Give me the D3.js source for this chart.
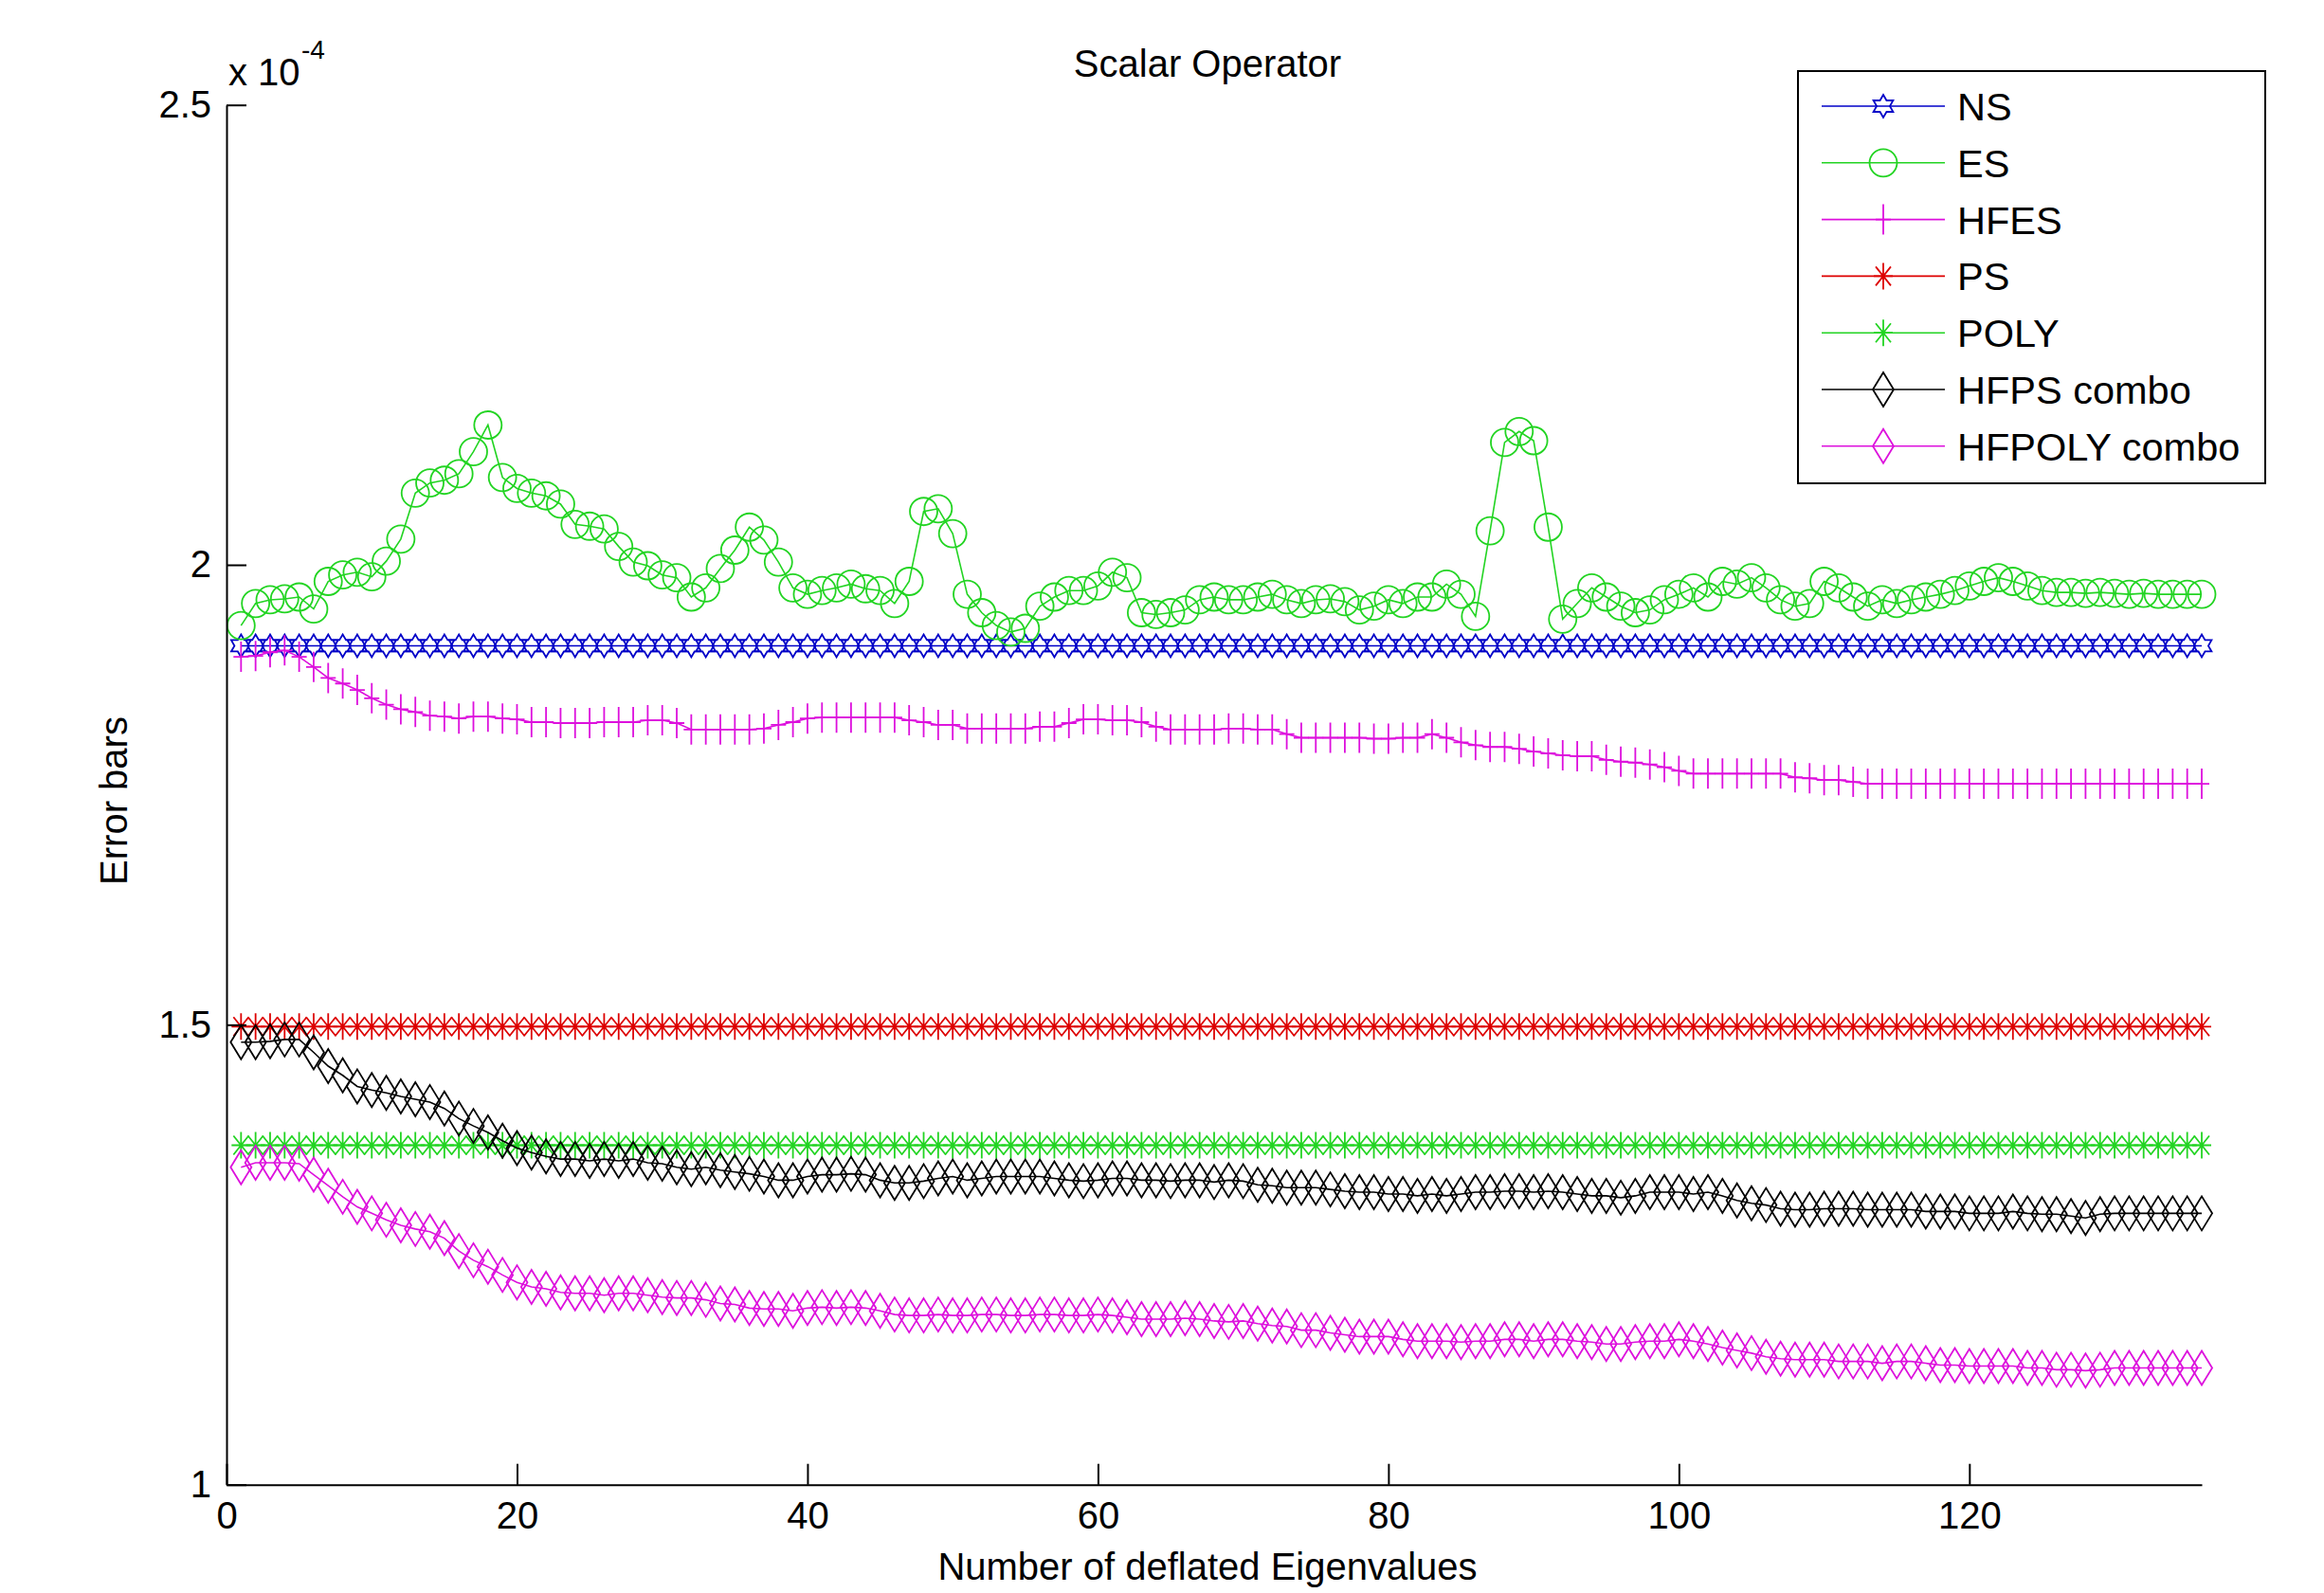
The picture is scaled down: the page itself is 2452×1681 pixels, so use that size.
<!DOCTYPE html>
<html><head><meta charset="utf-8">
<script src="https://cdn.jsdelivr.net/npm/d3@7"></script>
<style>
body{margin:0;background:#fff}
svg{display:block}
text{font-family:"Liberation Sans",Arial,Helvetica,sans-serif;fill:#000}
</style>
</head><body>
<svg id="chart" width="2452" height="1681"></svg>
<script>
// ---------- DATA ----------
const eigenCounts = d3.range(1, 137); // x = 1..136
const xTickValues = [0, 20, 40, 60, 80, 100, 120];
const yTickValues = [1, 1.5, 2, 2.5];
const seriesNames = ["NS", "ES", "HFES", "PS", "POLY", "HFPS combo", "HFPOLY combo"];

const NS = [
1.912,1.912,1.912,1.912,1.912,1.912,1.912,1.912,1.912,1.912,1.912,1.912,1.912,1.912,1.912,1.912,1.912,
1.912,1.912,1.912,1.912,1.912,1.912,1.912,1.912,1.912,1.912,1.912,1.912,1.912,1.912,1.912,1.912,1.912,
1.912,1.912,1.912,1.912,1.912,1.912,1.912,1.912,1.912,1.912,1.912,1.912,1.912,1.912,1.912,1.912,1.912,
1.912,1.912,1.912,1.912,1.912,1.912,1.912,1.912,1.912,1.912,1.912,1.912,1.912,1.912,1.912,1.912,1.912,
1.912,1.912,1.912,1.912,1.912,1.912,1.912,1.912,1.912,1.912,1.912,1.912,1.912,1.912,1.912,1.912,1.912,
1.912,1.912,1.912,1.912,1.912,1.912,1.912,1.912,1.912,1.912,1.912,1.912,1.912,1.912,1.912,1.912,1.912,
1.912,1.912,1.912,1.912,1.912,1.912,1.912,1.912,1.912,1.912,1.912,1.912,1.912,1.912,1.912,1.912,1.912,
1.912,1.912,1.912,1.912,1.912,1.912,1.912,1.912,1.912,1.912,1.912,1.912,1.912,1.912,1.912,1.912,1.912];

const ES = [
1.934,1.958,1.962,1.963,1.965,1.952,1.982,1.989,1.992,1.987,
2.004,2.028,2.078,2.089,2.092,2.099,2.123,2.152,2.095,2.083,
2.078,2.075,2.066,2.044,2.042,2.039,2.020,2.003,1.999,1.989,
1.986,1.965,1.975,1.996,2.016,2.041,2.027,2.003,1.975,1.968,
1.972,1.975,1.979,1.974,1.972,1.958,1.982,2.058,2.061,2.034,
1.968,1.948,1.934,1.927,1.931,1.955,1.965,1.972,1.972,1.977,
1.992,1.986,1.948,1.946,1.948,1.951,1.962,1.965,1.962,1.962,
1.965,1.968,1.962,1.958,1.962,1.963,1.960,1.951,1.955,1.962,
1.958,1.965,1.965,1.979,1.968,1.944,2.037,2.133,2.145,2.135,
2.041,1.941,1.958,1.975,1.965,1.955,1.948,1.951,1.962,1.968,
1.975,1.965,1.982,1.979,1.986,1.975,1.962,1.955,1.958,1.982,
1.975,1.965,1.955,1.962,1.958,1.962,1.965,1.968,1.972,1.977,
1.982,1.986,1.982,1.977,1.972,1.970,1.970,1.969,1.970,1.969,
1.968,1.969,1.968,1.968,1.968,1.968];

const HFES = [
1.900,1.901,1.905,1.907,1.900,1.889,1.877,1.871,1.864,1.855,
1.848,1.843,1.840,1.836,1.835,1.833,1.835,1.835,1.833,1.832,
1.829,1.829,1.828,1.828,1.828,1.829,1.829,1.829,1.831,1.831,
1.828,1.821,1.821,1.821,1.821,1.821,1.822,1.826,1.829,1.833,
1.834,1.834,1.834,1.834,1.834,1.834,1.831,1.829,1.826,1.826,
1.822,1.822,1.822,1.822,1.822,1.824,1.824,1.828,1.832,1.832,
1.831,1.831,1.829,1.824,1.821,1.821,1.821,1.821,1.822,1.822,
1.821,1.821,1.816,1.812,1.812,1.812,1.812,1.812,1.811,1.811,
1.812,1.812,1.816,1.812,1.807,1.804,1.802,1.802,1.800,1.797,
1.795,1.793,1.792,1.792,1.788,1.786,1.785,1.783,1.780,1.776,
1.773,1.773,1.773,1.773,1.773,1.773,1.773,1.769,1.768,1.766,
1.766,1.764,1.762,1.762,1.762,1.762,1.762,1.762,1.762,1.762,
1.762,1.762,1.762,1.762,1.762,1.762,1.762,1.762,1.762,1.762,
1.762,1.762,1.762,1.762,1.762,1.762];

const PS = [
1.498,1.498,1.498,1.498,1.498,1.498,1.498,1.498,1.498,1.498,1.498,1.498,1.498,1.498,1.498,1.498,1.498,
1.498,1.498,1.498,1.498,1.498,1.498,1.498,1.498,1.498,1.498,1.498,1.498,1.498,1.498,1.498,1.498,1.498,
1.498,1.498,1.498,1.498,1.498,1.498,1.498,1.498,1.498,1.498,1.498,1.498,1.498,1.498,1.498,1.498,1.498,
1.498,1.498,1.498,1.498,1.498,1.498,1.498,1.498,1.498,1.498,1.498,1.498,1.498,1.498,1.498,1.498,1.498,
1.498,1.498,1.498,1.498,1.498,1.498,1.498,1.498,1.498,1.498,1.498,1.498,1.498,1.498,1.498,1.498,1.498,
1.498,1.498,1.498,1.498,1.498,1.498,1.498,1.498,1.498,1.498,1.498,1.498,1.498,1.498,1.498,1.498,1.498,
1.498,1.498,1.498,1.498,1.498,1.498,1.498,1.498,1.498,1.498,1.498,1.498,1.498,1.498,1.498,1.498,1.498,
1.498,1.498,1.498,1.498,1.498,1.498,1.498,1.498,1.498,1.498,1.498,1.498,1.498,1.498,1.498,1.498,1.498];

const POLY = [
1.369,1.369,1.369,1.369,1.369,1.369,1.369,1.369,1.369,1.369,1.369,1.369,1.369,1.369,1.369,1.369,1.369,
1.369,1.369,1.369,1.369,1.369,1.369,1.369,1.369,1.369,1.369,1.369,1.369,1.369,1.369,1.369,1.369,1.369,
1.369,1.369,1.369,1.369,1.369,1.369,1.369,1.369,1.369,1.369,1.369,1.369,1.369,1.369,1.369,1.369,1.369,
1.369,1.369,1.369,1.369,1.369,1.369,1.369,1.369,1.369,1.369,1.369,1.369,1.369,1.369,1.369,1.369,1.369,
1.369,1.369,1.369,1.369,1.369,1.369,1.369,1.369,1.369,1.369,1.369,1.369,1.369,1.369,1.369,1.369,1.369,
1.369,1.369,1.369,1.369,1.369,1.369,1.369,1.369,1.369,1.369,1.369,1.369,1.369,1.369,1.369,1.369,1.369,
1.369,1.369,1.369,1.369,1.369,1.369,1.369,1.369,1.369,1.369,1.369,1.369,1.369,1.369,1.369,1.369,1.369,
1.369,1.369,1.369,1.369,1.369,1.369,1.369,1.369,1.369,1.369,1.369,1.369,1.369,1.369,1.369,1.369,1.369];

const HFPS = [
1.481,1.481,1.482,1.484,1.484,1.470,1.455,1.445,1.433,1.429,
1.426,1.422,1.419,1.416,1.409,1.398,1.390,1.383,1.374,1.366,
1.361,1.357,1.354,1.354,1.352,1.354,1.352,1.354,1.350,1.349,
1.345,1.343,1.345,1.342,1.340,1.338,1.335,1.331,1.331,1.335,
1.337,1.337,1.338,1.337,1.331,1.328,1.328,1.330,1.333,1.335,
1.331,1.333,1.335,1.335,1.335,1.335,1.333,1.331,1.330,1.331,
1.333,1.333,1.331,1.331,1.330,1.331,1.331,1.329,1.331,1.330,
1.326,1.325,1.323,1.323,1.323,1.321,1.319,1.318,1.318,1.316,
1.316,1.314,1.316,1.314,1.316,1.318,1.318,1.319,1.319,1.318,
1.319,1.318,1.316,1.314,1.314,1.312,1.314,1.318,1.318,1.318,
1.316,1.318,1.314,1.309,1.306,1.304,1.300,1.299,1.299,1.300,
1.300,1.300,1.299,1.299,1.299,1.299,1.297,1.297,1.297,1.295,
1.295,1.295,1.297,1.295,1.294,1.294,1.292,1.290,1.294,1.295,
1.295,1.295,1.295,1.295,1.295,1.295];

const HFPOLY = [
1.345,1.350,1.350,1.350,1.349,1.337,1.325,1.313,1.302,1.295,
1.288,1.282,1.278,1.275,1.268,1.254,1.244,1.237,1.228,1.220,
1.215,1.213,1.209,1.208,1.208,1.206,1.208,1.208,1.206,1.204,
1.203,1.203,1.201,1.197,1.196,1.192,1.191,1.191,1.189,1.192,
1.193,1.192,1.193,1.192,1.189,1.185,1.184,1.184,1.185,1.184,
1.184,1.185,1.185,1.184,1.184,1.185,1.185,1.184,1.184,1.185,
1.184,1.182,1.180,1.180,1.180,1.181,1.180,1.178,1.177,1.178,
1.175,1.173,1.172,1.168,1.168,1.165,1.163,1.161,1.161,1.161,
1.158,1.156,1.156,1.156,1.155,1.156,1.156,1.158,1.158,1.156,
1.158,1.158,1.156,1.155,1.153,1.153,1.155,1.156,1.156,1.158,
1.156,1.153,1.149,1.146,1.143,1.139,1.137,1.136,1.136,1.136,
1.134,1.134,1.134,1.132,1.134,1.134,1.132,1.130,1.130,1.129,
1.129,1.129,1.129,1.127,1.127,1.125,1.125,1.124,1.125,1.127,
1.127,1.127,1.127,1.127,1.127,1.127];

// ---------- STYLE ----------
const seriesData = [NS, ES, HFES, PS, POLY, HFPS, HFPOLY];
const seriesColors = ["#0000c8", "#22d422", "#dd10dd", "#dd0000", "#22d422", "#000000", "#dd10dd"];
const seriesMarkers = ["hexagram", "circle", "plus", "star", "star", "diamond", "diamond"];

function hexagramPath(R) {
  const r = R / Math.sqrt(3);
  const pts = [];
  for (let i = 0; i < 12; i++) {
    const a = -Math.PI / 2 + i * Math.PI / 6;
    const rr = i % 2 === 0 ? R : r;
    pts.push([rr * Math.cos(a), rr * Math.sin(a)]);
  }
  return "M" + pts.map(p => p[0].toFixed(2) + "," + p[1].toFixed(2)).join("L") + "Z";
}
const markerPaths = {
  hexagram: hexagramPath(12),
  circle: "M14.5,0A14.5,14.5 0 1 1 -14.5,0A14.5,14.5 0 1 1 14.5,0Z",
  plus: "M0,-16V16M-8,0H8",
  star: "M0,-14V14M-10,0H10M-8,-10L8,10M-8,10L8,-10",
  diamond: "M0,-18L11,0L0,18L-11,0Z"
};

const margin = {left: 239, right: 2323, top: 110.7, bottom: 1566.7};
const x = d3.scaleLinear().domain([0, 136]).range([margin.left, margin.right]);
const y = d3.scaleLinear().domain([1, 2.5]).range([margin.bottom, margin.top]);

const svg = d3.select("#chart");
svg.append("rect").attr("width", 2452).attr("height", 1681).attr("fill", "#fff");

// ---------- SERIES ----------
const line = d3.line().x((d, i) => x(eigenCounts[i])).y(d => y(d));
seriesData.forEach((vals, s) => {
  const g = svg.append("g");
  g.append("path").attr("d", line(vals)).attr("fill", "none")
    .attr("stroke", seriesColors[s]).attr("stroke-width", 1.6);
  g.selectAll("path.m").data(vals).enter().append("path").attr("class", "m")
    .attr("d", markerPaths[seriesMarkers[s]])
    .attr("transform", (d, i) => `translate(${x(eigenCounts[i])},${y(d)})`)
    .attr("fill", "none").attr("stroke", seriesColors[s]).attr("stroke-width", 1.8);
});

// ---------- AXES ----------
const xAxis = d3.axisBottom(x).tickValues(xTickValues).tickSizeInner(-22).tickSizeOuter(0).tickPadding(18);
const gx = svg.append("g").attr("transform", `translate(0,${margin.bottom})`).call(xAxis);
const yAxis = d3.axisLeft(y).tickValues(yTickValues).tickFormat(d3.format("")).tickSizeInner(-21).tickSizeOuter(0).tickPadding(16);
const gy = svg.append("g").attr("transform", `translate(${margin.left},0)`).call(yAxis);
[gx, gy].forEach(g => {
  g.attr("font-size", null).attr("font-family", null);
  g.selectAll("text").attr("font-size", 40).style("fill", "#000");
  g.select(".domain").attr("stroke", "#000").attr("stroke-width", 2);
  g.selectAll(".tick line").attr("stroke", "#000").attr("stroke-width", 2);
});

// exponent label
svg.append("text").attr("x", 241).attr("y", 90).attr("font-size", 40).text("x 10");
svg.append("text").attr("x", 318).attr("y", 62).attr("font-size", 28).text("-4");

// title and labels
svg.append("text").attr("x", 1274).attr("y", 81).attr("text-anchor", "middle").attr("font-size", 40).text("Scalar Operator");
svg.append("text").attr("x", 1274).attr("y", 1667).attr("text-anchor", "middle").attr("font-size", 40).text("Number of deflated Eigenvalues");
svg.append("text").attr("transform", "translate(134,845) rotate(-90)").attr("text-anchor", "middle").attr("font-size", 40).text("Error bars");

// ---------- LEGEND ----------
const lg = svg.append("g");
lg.append("rect").attr("x", 1897).attr("y", 75).attr("width", 493).attr("height", 435)
  .attr("fill", "#fff").attr("stroke", "#000").attr("stroke-width", 2);
seriesNames.forEach((name, s) => {
  const ry = 112 + s * 59.8;
  lg.append("line").attr("x1", 1922).attr("x2", 2052).attr("y1", ry).attr("y2", ry)
    .attr("stroke", seriesColors[s]).attr("stroke-width", 1.6);
  lg.append("path").attr("d", markerPaths[seriesMarkers[s]]).attr("transform", `translate(1987,${ry})`)
    .attr("fill", "none").attr("stroke", seriesColors[s]).attr("stroke-width", 1.8);
  lg.append("text").attr("x", 2065).attr("y", ry + 15).attr("font-size", 41.5).text(name);
});
</script>
</body></html>
